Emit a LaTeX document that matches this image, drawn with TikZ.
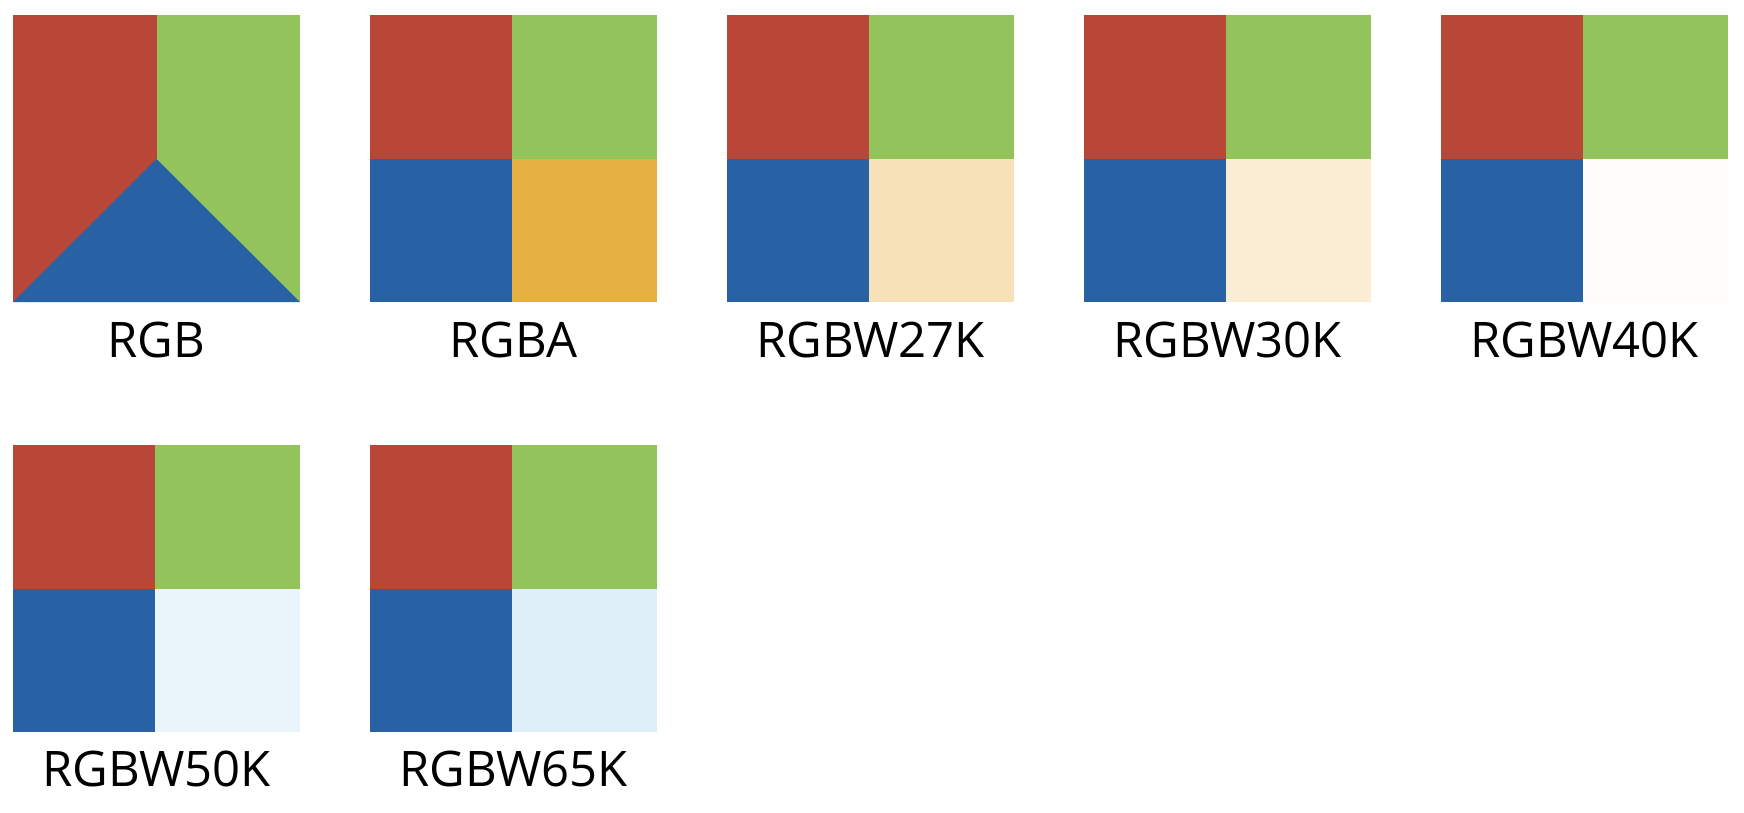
\documentclass[tikz,border=0pt]{standalone}
\usepackage{fontspec}
\setmainfont{Open Sans}
\definecolor{cR}{HTML}{B94738}
\definecolor{cG}{HTML}{93C35B}
\definecolor{cB}{HTML}{2962A4}
\definecolor{cA}{HTML}{E6B042}
\definecolor{cW27}{HTML}{F7E1B8}
\definecolor{cW30}{HTML}{FBEDD4}
\definecolor{cW40}{HTML}{FFFDFA}
\definecolor{cW50}{HTML}{EAF5FB}
\definecolor{cW65}{HTML}{DFEFF9}
\tikzset{lbl/.style={font=\fontsize{49}{58}\selectfont, anchor=base, inner sep=0pt}}
\newcommand{\quadbox}[3]{% x, y, color
  \fill[cR] (#1,#2) rectangle (#1+142,#2+143.5);
  \fill[cG] (#1+142,#2) rectangle (#1+287,#2+143.5);
  \fill[cB] (#1,#2+143.5) rectangle (#1+142,#2+287);
  \fill[#3] (#1+142,#2+143.5) rectangle (#1+287,#2+287);
}
\begin{document}
\begin{tikzpicture}[x=1pt,y=-1pt]
\useasboundingbox[fill=white] (0,0) rectangle (1744,812);
% RGB
\fill[cR] (13,15) rectangle (156.5,302);
\fill[cG] (156.5,15) rectangle (300,302);
\fill[cB] (13,302) -- (156.5,159) -- (300,302) -- cycle;
\node[lbl] (l1) at (156.5,357) {RGB};
\quadbox{370}{15}{cA}
\node[lbl] (l2) at (513.5,357) {RGBA};
\quadbox{727}{15}{cW27}
\node[lbl] (l3) at (870.5,357) {RGBW27K};
\quadbox{1084}{15}{cW30}
\node[lbl] (l4) at (1227.5,357) {RGBW30K};
\quadbox{1441}{15}{cW40}
\node[lbl] (l5) at (1584.5,357) {RGBW40K};
\quadbox{13}{445}{cW50}
\node[lbl] (l6) at (156.5,786) {RGBW50K};
\quadbox{370}{445}{cW65}
\node[lbl] (l7) at (513.5,786) {RGBW65K};
\end{tikzpicture}
\end{document}
